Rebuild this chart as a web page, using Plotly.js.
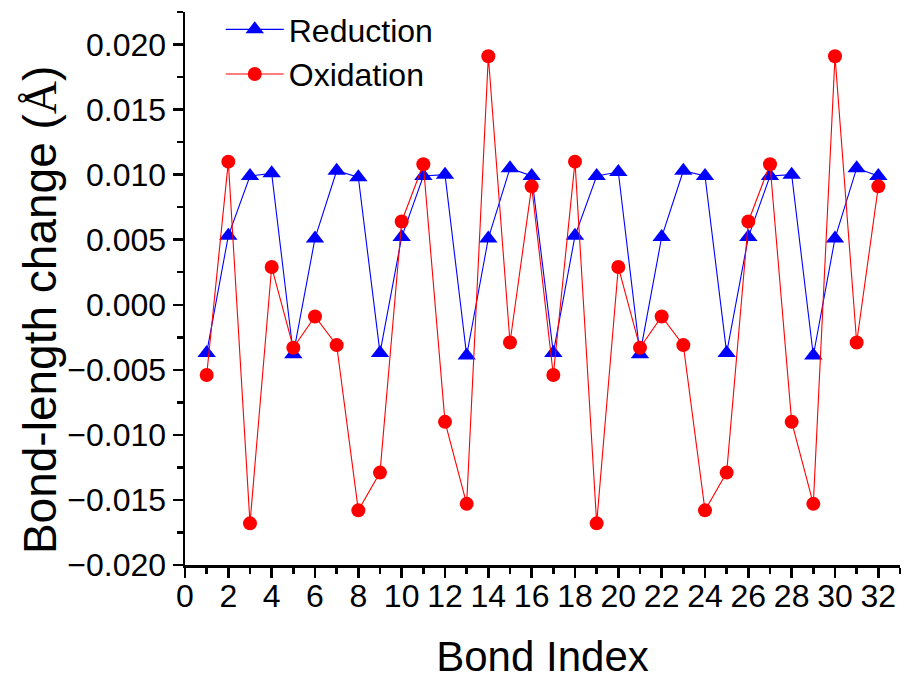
<!DOCTYPE html>
<html>
<head>
<meta charset="utf-8">
<script src="https://cdn.plot.ly/plotly-3.0.1.min.js"></script>
<style>html,body{margin:0;padding:0;background:#fff;}#chart{width:907px;height:683px;}</style>
</head>
<body>
<div id="chart"></div>
<script>
const bondIndex = [1,2,3,4,5,6,7,8,9,10,11,12,13,14,15,16,17,18,19,20,21,22,23,24,25,26,27,28,29,30,31,32];
const reduction = [-0.0037,0.0053,0.0099,0.0101,-0.0038,0.0051,0.0103,0.0098,-0.0037,0.0052,0.0099,0.0100,-0.0039,0.0051,0.0105,0.0099,
                   -0.0037,0.0053,0.0099,0.0102,-0.0038,0.0052,0.0103,0.0099,-0.0037,0.0052,0.0099,0.0100,-0.0039,0.0051,0.0105,0.0099];
const oxidation = [-0.0054,0.0110,-0.0168,0.0029,-0.0033,-0.0009,-0.0031,-0.0158,-0.0129,0.0064,0.0108,-0.0090,-0.0153,0.0191,-0.0029,0.0091,
                   -0.0054,0.0110,-0.0168,0.0029,-0.0033,-0.0009,-0.0031,-0.0158,-0.0129,0.0064,0.0108,-0.0090,-0.0153,0.0191,-0.0029,0.0091];
const seriesNames = ['Reduction','Oxidation'];
const xTitle = 'Bond Index';
const yTitle = 'Bond-length change (<span style="font-family:\'Liberation Serif\',serif">Å</span>)';

const FONT = "'Liberation Sans', Arial, sans-serif";

const traces = [
  {x: bondIndex, y: reduction, name: seriesNames[0], type: 'scatter', mode: 'lines+markers',
   line: {color: '#0000ff', width: 1.1}, marker: {symbol: 'triangle-up', size: 16, color: '#0000ff'}},
  {x: bondIndex, y: oxidation, name: seriesNames[1], type: 'scatter', mode: 'lines+markers',
   line: {color: '#ff0000', width: 1.1}, marker: {symbol: 'circle', size: 14, color: '#ff0000'}}
];

const axisCommon = {
  showgrid: false, zeroline: false, showline: true, linecolor: '#000', linewidth: 2.5,
  ticks: 'outside', tickcolor: '#000', tickwidth: 2.5, ticklen: 10, mirror: false, automargin: false
};

const layout = {
  width: 907, height: 683,
  margin: {l: 185, r: 7, t: 12, b: 118, autoexpand: false},
  paper_bgcolor: '#fff', plot_bgcolor: '#fff',
  font: {family: FONT, color: '#000'},
  showlegend: true,
  legend: {x: 0.05, y: 1.018, xanchor: 'left', yanchor: 'top', bgcolor: 'rgba(0,0,0,0)',
           font: {family: FONT, size: 32, color: '#000'}, itemwidth: 58},
  xaxis: Object.assign({}, axisCommon, {
    range: [0, 33], dtick: 2, tick0: 0, tickangle: 0, ticklabelstandoff: -9,
    tickfont: {family: FONT, size: 32},
    minor: {dtick: 1, ticks: 'outside', ticklen: 6, tickwidth: 2.5, tickcolor: '#000'},
    title: {text: xTitle, font: {family: FONT, size: 42}, standoff: 29}
  }),
  yaxis: Object.assign({}, axisCommon, {
    range: [-0.020, 0.0225], dtick: 0.005, tick0: 0, tickformat: '.3f',
    tickfont: {family: FONT, size: 32},
    minor: {dtick: 0.0025, ticks: 'outside', ticklen: 6, tickwidth: 2.5, tickcolor: '#000'}
  }),
  annotations: [{
    text: yTitle, textangle: -90, xref: 'paper', yref: 'paper',
    x: -0.2028, y: 0.461, xanchor: 'center', yanchor: 'middle', showarrow: false,
    font: {family: FONT, size: 46, color: '#000'}
  }]
};

Plotly.newPlot('chart', traces, layout, {displayModeBar: false, staticPlot: true});
</script>
</body>
</html>
